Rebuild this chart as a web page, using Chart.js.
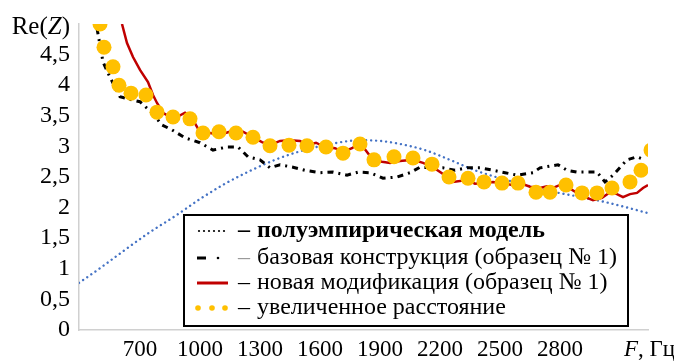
<!DOCTYPE html>
<html>
<head>
<meta charset="utf-8">
<script src="https://cdn.jsdelivr.net/npm/chart.js@4/dist/chart.umd.min.js"></script>
<style>
  html, body { margin: 0; padding: 0; background: #ffffff; }
  #wrap { width: 674px; height: 363px; position: relative; }
  .fl { position: absolute; left: -9999px; top: 0; font-family: "Liberation Serif"; }
</style>
</head>
<body>
<span class="fl">Re 0,5 базовая</span>
<span class="fl" style="font-style:italic">Z F</span>
<span class="fl" style="font-weight:bold">полуэмпирическая</span>
<div id="wrap"><canvas id="c" width="674" height="363"></canvas></div>
<script>
// ---------- DATA ----------
const xTickLabels = [700, 1000, 1300, 1600, 1900, 2200, 2500, 2800];
const yTickLabels = [0, 0.5, 1, 1.5, 2, 2.5, 3, 3.5, 4, 4.5];

const seriesNames = [
  'полуэмпирическая модель',
  'базовая конструкция (образец № 1)',
  'новая модификация (образец № 1)',
  'увеличенное расстояние'
];

// semi-empirical model (blue dotted)
const modelF = [395, 500, 625, 750, 875, 1000, 1125, 1250, 1375, 1500, 1625, 1750, 1825, 1900, 2000, 2125, 2250, 2375, 2500, 2625, 2750, 2875, 3000, 3125, 3240];
const modelRe = [0.77, 1.01, 1.31, 1.60, 1.86, 2.14, 2.39, 2.60, 2.78, 2.92, 3.02, 3.09, 3.10, 3.09, 3.04, 2.94, 2.78, 2.61, 2.48, 2.37, 2.27, 2.19, 2.11, 2.01, 1.91];

// base construction (black dash-dot)
const baseF = [485, 515, 550, 600, 660, 700, 760, 810, 860, 925, 1000, 1065, 1135, 1190, 1240, 1300, 1350, 1400, 1465, 1525, 1600, 1665, 1735, 1790, 1850, 1915, 1985, 2050, 2100, 2165, 2215, 2275, 2335, 2400, 2465, 2525, 2585, 2665, 2700, 2790, 2835, 2885, 2985, 3025, 3065, 3135, 3185, 3225];
const baseRe = [4.93, 4.38, 4.13, 3.81, 3.76, 3.73, 3.55, 3.35, 3.27, 3.14, 3.06, 2.94, 2.99, 2.99, 2.83, 2.78, 2.65, 2.70, 2.66, 2.61, 2.57, 2.58, 2.53, 2.58, 2.57, 2.48, 2.50, 2.57, 2.66, 2.65, 2.65, 2.61, 2.65, 2.65, 2.61, 2.57, 2.53, 2.57, 2.65, 2.70, 2.61, 2.58, 2.58, 2.42, 2.53, 2.78, 2.83, 2.78];

// new modification (red line)
const newF = [610, 635, 665, 700, 740, 765, 785, 815, 850, 885, 925, 960, 985, 1000, 1050, 1100, 1160, 1215, 1265, 1310, 1350, 1400, 1450, 1500, 1535, 1580, 1625, 1675, 1715, 1760, 1800, 1835, 1865, 1910, 1950, 2000, 2065, 2115, 2165, 2215, 2265, 2335, 2375, 2415, 2465, 2515, 2560, 2600, 2650, 2700, 2735, 2765, 2800, 2835, 2885, 2935, 2965, 3010, 3050, 3085, 3115, 3150, 3185, 3215, 3240];
const newRe = [5.0, 4.69, 4.46, 4.25, 4.05, 3.84, 3.71, 3.55, 3.48, 3.48, 3.55, 3.46, 3.32, 3.22, 3.22, 3.19, 3.25, 3.24, 3.15, 3.07, 3.02, 3.09, 3.10, 3.09, 3.02, 3.06, 2.99, 2.97, 2.91, 2.97, 3.06, 2.91, 2.78, 2.75, 2.73, 2.76, 2.78, 2.73, 2.66, 2.55, 2.42, 2.45, 2.39, 2.40, 2.42, 2.40, 2.37, 2.40, 2.34, 2.32, 2.35, 2.32, 2.37, 2.34, 2.24, 2.16, 2.12, 2.16, 2.25, 2.22, 2.17, 2.22, 2.24, 2.32, 2.37];

// increased distance (orange dots)
const distF = [500, 520, 565, 595, 655, 730, 785, 865, 950, 1015, 1095, 1180, 1265, 1350, 1445, 1535, 1630, 1715, 1800, 1870, 1970, 2065, 2160, 2245, 2340, 2420, 2510, 2590, 2680, 2750, 2830, 2910, 2985, 3060, 3150, 3205, 3255];
const distRe = [5.0, 4.62, 4.30, 4.00, 3.87, 3.84, 3.56, 3.48, 3.45, 3.22, 3.24, 3.22, 3.15, 3.01, 3.02, 3.01, 2.99, 2.89, 3.04, 2.78, 2.83, 2.81, 2.71, 2.50, 2.48, 2.42, 2.40, 2.40, 2.25, 2.25, 2.37, 2.24, 2.24, 2.32, 2.42, 2.61, 2.94];

// ---------- helpers ----------
const pts = (xs, ys) => xs.map((x, i) => ({ x: x, y: ys[i] }));
const SERIF = '"Liberation Serif", "Times New Roman", serif';

const overlay = {
  id: 'overlay',
  afterDatasetsDraw(chart) {
    const ctx = chart.ctx;
    ctx.save();

    // legend box
    const bx = 184, by = 215, bw = 444, bh = 111;
    ctx.fillStyle = '#ffffff';
    ctx.fillRect(bx, by, bw, bh);
    ctx.strokeStyle = '#000000';
    ctx.lineWidth = 2;
    ctx.strokeRect(bx, by, bw, bh);

    // legend font: 24px tall, horizontally condensed to the reference row width
    const fs = 24;
    ctx.font = fs + 'px ' + SERIF;
    const wLong = ctx.measureText(seriesNames[1]).width;
    const sxScale = Math.min(1, 360 / wLong);

    const rowsY = [231, 258, 283, 308];
    const dashX = 238, textX = 257;

    // row 1 symbol: black dots
    ctx.fillStyle = '#000';
    for (let x = 199; x <= 227; x += 5) {
      ctx.beginPath(); ctx.arc(x, rowsY[0], 1.1, 0, Math.PI * 2); ctx.fill();
    }
    // row 2 symbol: dash + dot
    ctx.fillRect(197, rowsY[1] - 1.5, 9, 3);
    ctx.beginPath(); ctx.arc(218, rowsY[1], 1.3, 0, Math.PI * 2); ctx.fill();
    // row 3 symbol: red line
    ctx.strokeStyle = '#C00000';
    ctx.lineWidth = 3;
    ctx.beginPath(); ctx.moveTo(197, rowsY[2]); ctx.lineTo(228, rowsY[2]); ctx.stroke();
    // row 4 symbol: orange dots
    ctx.fillStyle = '#FFC000';
    [198, 212, 225].forEach(x => { ctx.beginPath(); ctx.arc(x, rowsY[3], 2.8, 0, Math.PI * 2); ctx.fill(); });

    ctx.textBaseline = 'middle';
    ctx.textAlign = 'left';
    seriesNames.forEach((name, i) => {
      const bold = i === 0 ? 'bold ' : '';
      ctx.font = bold + fs + 'px ' + SERIF;
      ctx.fillStyle = i === 1 ? '#9a9a9a' : '#000';
      ctx.fillText('–', dashX, rowsY[i]);
      ctx.save();
      ctx.translate(textX, rowsY[i]);
      ctx.scale(sxScale, 1);
      ctx.fillStyle = '#000';
      ctx.fillText(name, 0, 0);
      ctx.restore();
    });

    // y-axis title "Re(Z)"
    const yl = 27;
    ctx.font = '25px ' + SERIF;
    const wRe = ctx.measureText('Re(').width;
    const wP = ctx.measureText(')').width;
    ctx.font = 'italic 25px ' + SERIF;
    const wZ = ctx.measureText('Z').width;
    const sx = 70 - (wRe + wZ + wP);
    ctx.fillStyle = '#000';
    ctx.font = '25px ' + SERIF;
    ctx.fillText('Re(', sx, yl);
    ctx.font = 'italic 25px ' + SERIF;
    ctx.fillText('Z', sx + wRe, yl);
    ctx.font = '25px ' + SERIF;
    ctx.fillText(')', sx + wRe + wZ, yl);

    // x-axis title "F, Гц"
    const xl = 350;
    ctx.font = 'italic 23px ' + SERIF;
    ctx.fillText('F', 624, xl);
    const wF = ctx.measureText('F').width;
    ctx.font = '23px ' + SERIF;
    ctx.fillText(', Гц', 624 + wF, xl);

    ctx.restore();
  }
};

const chart = new Chart(document.getElementById('c'), {
  type: 'scatter',
  data: {
    datasets: [
      {
        label: seriesNames[0],
        data: pts(modelF, modelRe),
        showLine: true,
        borderColor: '#4472C4',
        borderWidth: 2.4,
        borderDash: [0.01, 5],
        borderCapStyle: 'round',
        pointRadius: 0,
        tension: 0.4,
        cubicInterpolationMode: 'monotone',
        order: 4
      },
      {
        label: seriesNames[1],
        data: pts(baseF, baseRe),
        showLine: true,
        borderColor: '#000000',
        borderWidth: 3,
        borderDash: [6, 5, 2, 5],
        pointRadius: 0,
        tension: 0,
        order: 3
      },
      {
        label: seriesNames[2],
        data: pts(newF, newRe),
        showLine: true,
        borderColor: '#C00000',
        borderWidth: 2.5,
        pointRadius: 0,
        tension: 0,
        order: 2
      },
      {
        label: seriesNames[3],
        data: pts(distF, distRe),
        showLine: false,
        backgroundColor: '#FFC000',
        borderColor: '#FFC000',
        borderWidth: 0,
        pointRadius: 7.5,
        pointHoverRadius: 7.5,
        clip: 0,
        order: 1
      }
    ]
  },
  options: {
    responsive: false,
    animation: false,
    devicePixelRatio: 1,
    layout: { padding: { top: 24, right: 26, left: 0, bottom: 0 } },
    plugins: {
      legend: { display: false },
      tooltip: { enabled: false }
    },
    scales: {
      x: {
        type: 'linear',
        min: 395,
        max: 3240,
        afterBuildTicks: (s) => { s.ticks = xTickLabels.map(v => ({ value: v })); },
        afterFit: (s) => { s.height = 33; },
        grid: { display: false, drawTicks: false },
        border: { display: true, color: '#d0d0d0', width: 1.5 },
        ticks: {
          padding: 6,
          color: '#000',
          maxRotation: 0,
          autoSkip: false,
          font: { family: SERIF, size: 23 },
          callback: (v) => String(v)
        }
      },
      y: {
        type: 'linear',
        min: 0,
        max: 5,
        afterBuildTicks: (s) => { s.ticks = yTickLabels.map(v => ({ value: v })); },
        afterFit: (s) => { s.width = 79; },
        grid: { display: false, drawTicks: false },
        border: { display: true, color: '#d0d0d0', width: 1.5 },
        ticks: {
          padding: 9,
          color: '#000',
          autoSkip: false,
          font: { family: SERIF, size: 24 },
          callback: (v) => String(v).replace('.', ',')
        }
      }
    }
  },
  plugins: [overlay]
});

// redraw once the serif faces are surely available to the canvas
if (document.fonts && document.fonts.load) {
  Promise.all([
    document.fonts.load('24px "Liberation Serif"'),
    document.fonts.load('italic 24px "Liberation Serif"'),
    document.fonts.load('bold 24px "Liberation Serif"')
  ]).then(() => chart.update('none')).catch(() => {});
}
</script>
</body>
</html>
